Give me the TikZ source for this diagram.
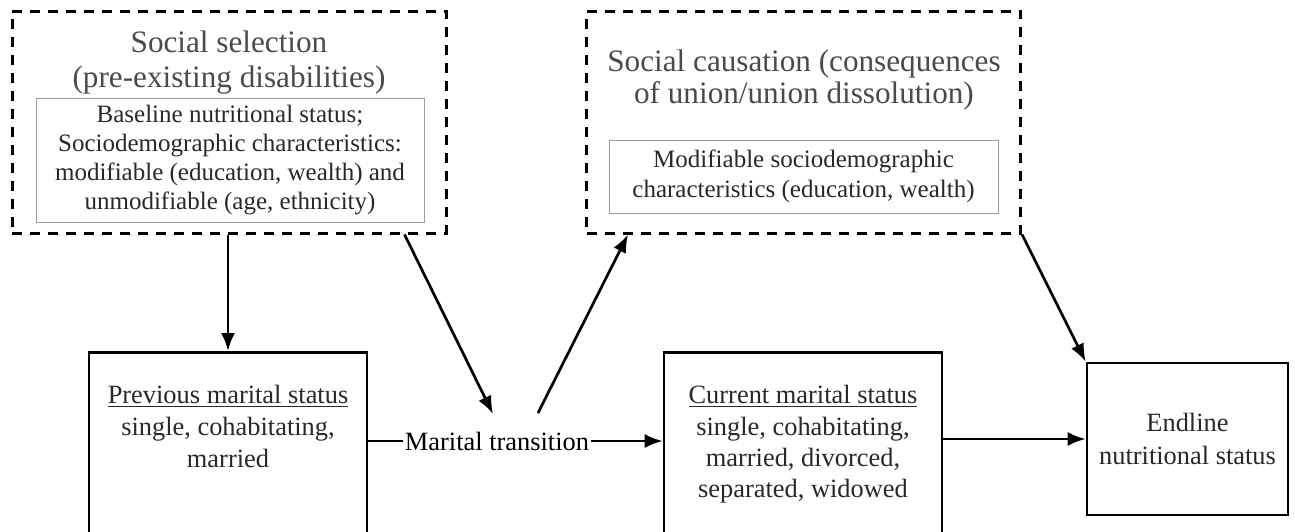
\documentclass[tikz,border=0pt]{standalone}
\usepackage{fontspec}
\setmainfont{Liberation Serif}
\usetikzlibrary{arrows.meta}

\definecolor{headgray}{HTML}{4A4A4A}
\definecolor{textgray}{HTML}{282828}
\definecolor{framegray}{HTML}{9A9A9A}

\begin{document}
\begin{tikzpicture}[x=0.5pt,y=-0.5pt,
    dashbox/.style={draw,line width=1.5pt,dash pattern=on 5pt off 4pt,minimum width=217pt,minimum height=111pt,inner sep=0pt},
    innerbox/.style={draw=framegray,line width=0.5pt,align=center,inner sep=0pt,text=textgray},
    statebox/.style={draw,line width=1.3pt,inner sep=0pt,anchor=north},
    arr/.style={line width=1.35pt,-{Latex[length=9pt,width=7pt]}}]
    \useasboundingbox (0,0) rectangle (1295,531);
    \clip (0,0) rectangle (1295,531);

    % Social selection
    \node[dashbox] (sel) at (229,122) {};
    \node[align=center,inner sep=0pt,text=headgray,font=\fontsize{15.6}{17.5}\selectfont] (selhead) at (229,63)
        {Social selection\\(pre-existing disabilities)};
    \node[innerbox,minimum width=194pt,minimum height=62pt,font=\fontsize{12.5}{14.6}\selectfont] (selinfo) at (230,160)
        {Baseline nutritional status;\\Sociodemographic characteristics:\\modifiable (education, wealth) and\\unmodifiable (age, ethnicity)};

    % Social causation
    \node[dashbox] (caus) at (803.5,122) {};
    \node[align=center,inner sep=0pt,text=headgray,font=\fontsize{15.6}{16.2}\selectfont] (caushead) at (804,80)
        {Social causation (consequences\\of union/union dissolution)};
    \node[innerbox,minimum width=194.5pt,minimum height=36.5pt,font=\fontsize{12.5}{15}\selectfont] (causinfo) at (803.5,176.5)
        {Modifiable sociodemographic\\characteristics (education, wealth)};

    % marital status boxes
    \node[statebox,minimum width=139pt,minimum height=130pt] (prev) at (228,351) {};
    \node[anchor=north,align=center,inner sep=0pt,text=textgray,font=\fontsize{13.2}{16}\selectfont] (prevtxt) at (228,385)
        {\underline{Previous marital status}\\single, cohabitating,\\married};
    \node[statebox,minimum width=139pt,minimum height=130pt] (cur) at (803,351) {};
    \node[anchor=north,align=center,inner sep=0pt,text=textgray,font=\fontsize{13.2}{15.7}\selectfont] (curtxt) at (803,385)
        {\underline{Current marital status}\\single, cohabitating,\\married, divorced,\\separated, widowed};
    \node[draw,line width=1.3pt,minimum width=100.5pt,minimum height=76pt,align=center,text=textgray,font=\fontsize{13.2}{16.5}\selectfont] (end) at (1187.5,439)
        {Endline\\nutritional status};

    % transition
    \node[inner xsep=1pt,inner ysep=0pt,font=\fontsize{13.2}{15}\selectfont] (trans) at (497,441) {Marital transition};
    \coordinate (tin) at (493,414);
    \coordinate (tout) at (538,413);

    \draw[line width=1.3pt] (prev.east |- trans.west) -- (trans.west);
    \draw[arr] (trans.east) -- (cur.west |- trans.east);
    \draw[arr] (cur.east |- end.west) -- (end.west);
    \draw[arr] (sel.south -| prev.north) -- (prev.north);
    \draw[arr] ([xshift=-21.5pt]sel.south east) -- (tin);
    \draw[arr] (tout) -- ([xshift=21.5pt]caus.south west);
    \draw[arr] (caus.south east) -- (end.north west);
\end{tikzpicture}
\end{document}
